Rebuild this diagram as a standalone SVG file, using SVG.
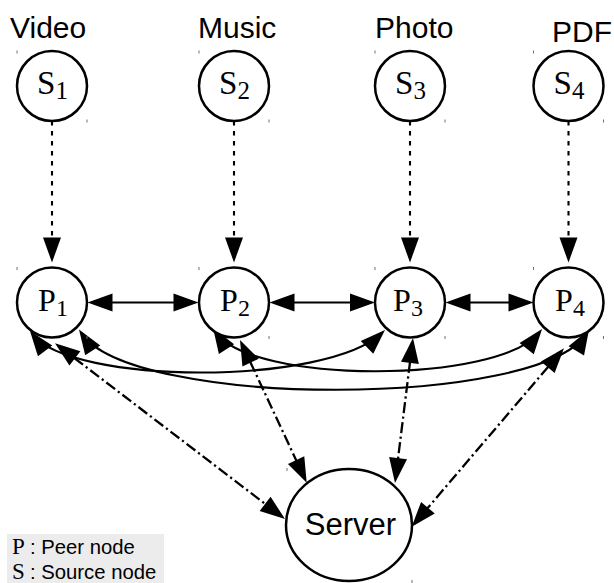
<svg xmlns="http://www.w3.org/2000/svg" width="614" height="583" viewBox="0 0 614 583">
  <style>
    .node { fill: #ffffff; stroke: #000000; stroke-width: 2.5; }
    .tick { stroke: #707070; stroke-width: 1; }
    .cap { font-family: "Liberation Sans", Arial, sans-serif; font-size: 30px; fill: #000000; }
    .math { font-family: "Liberation Serif", "Times New Roman", serif; fill: #000000; }
    .sans { font-family: "Liberation Sans", Arial, sans-serif; fill: #000000; }
    .edge { fill: none; stroke: #000000; stroke-width: 2.1; }
    .dotted { stroke-dasharray: 4.5 5.5; }
    .dashdot { stroke-dasharray: 11 3.5 2.2 3.5; stroke-width: 2.3; }
  </style>
  <defs>
    <marker id="head" markerUnits="userSpaceOnUse" orient="auto-start-reverse"
            refX="-4" refY="0" markerWidth="40" markerHeight="30" overflow="visible">
      <path d="M0,0 L-25,-9 L-25,9 Z" fill="#000000"/>
    </marker>
  </defs>

  <rect width="614" height="583" fill="#ffffff"/>

  <!-- content type captions above the sources -->
  <g id="captions">
    <text class="cap" x="10" y="38">Video</text>
    <text class="cap" x="198" y="38">Music</text>
    <text class="cap" x="375" y="38">Photo</text>
    <text class="cap" x="552" y="42.3">PDF</text>
  </g>

  <!-- connectors -->
  <g id="connectors">
    <!-- source to peer (dotted) -->
    <path class="edge dotted" d="M52,121 V258.5" marker-end="url(#head)"/>
    <path class="edge dotted" d="M234,121 V258.5" marker-end="url(#head)"/>
    <path class="edge dotted" d="M410,121 V258.5" marker-end="url(#head)"/>
    <path class="edge dotted" d="M568.5,121 V258.5" marker-end="url(#head)"/>

    <!-- neighbouring peers -->
    <path class="edge" d="M91.5,302.5 H194.5" marker-start="url(#head)" marker-end="url(#head)"/>
    <path class="edge" d="M273.5,302.5 H371" marker-start="url(#head)" marker-end="url(#head)"/>
    <path class="edge" d="M449.5,302.5 H529.5" marker-start="url(#head)" marker-end="url(#head)"/>

    <!-- long-range peer links -->
    <path class="edge" d="M32.4,334.2 C71,385 327,386 382.1,332.8" marker-start="url(#head)" marker-end="url(#head)"/>
    <path class="edge" d="M81.2,332.8 C131,408.8 542,408.8 587,332.9" marker-start="url(#head)" marker-end="url(#head)"/>
    <path class="edge" d="M215.2,331.4 C249,384.5 498.7,384.5 539.6,332.1" marker-start="url(#head)" marker-end="url(#head)"/>

    <!-- peer to server (dash-dot) -->
    <path class="edge dashdot" d="M58.2,345.7 L281.8,516.6" marker-start="url(#head)" marker-end="url(#head)"/>
    <path class="edge dashdot" d="M241.7,343.6 L305,479.1" marker-start="url(#head)" marker-end="url(#head)"/>
    <path class="edge dashdot" d="M412.5,342 L395.5,479" marker-start="url(#head)" marker-end="url(#head)"/>
    <path class="edge dashdot" d="M561.4,351.3 L414.3,523.7" marker-start="url(#head)" marker-end="url(#head)"/>
  </g>

  <!-- source nodes -->
  <g id="S1">
    <circle class="node" cx="52" cy="86" r="35"/>
    <text class="math" x="52.5" y="94" font-size="33" text-anchor="middle">S<tspan font-size="25" dy="4.5">1</tspan></text>
    <path class="tick" d="M17,50.5 v3 M87,119.5 v3"/>
  </g>
  <g id="S2">
    <circle class="node" cx="234" cy="86" r="35"/>
    <text class="math" x="234.5" y="94" font-size="33" text-anchor="middle">S<tspan font-size="25" dy="4.5">2</tspan></text>
    <path class="tick" d="M199,50.5 v3 M269,119.5 v3"/>
  </g>
  <g id="S3">
    <circle class="node" cx="410" cy="86" r="35"/>
    <text class="math" x="410.5" y="94" font-size="33" text-anchor="middle">S<tspan font-size="25" dy="4.5">3</tspan></text>
    <path class="tick" d="M375,50.5 v3 M445,119.5 v3"/>
  </g>
  <g id="S4">
    <circle class="node" cx="568.5" cy="86" r="35"/>
    <text class="math" x="569" y="94" font-size="33" text-anchor="middle">S<tspan font-size="25" dy="4.5">4</tspan></text>
    <path class="tick" d="M533.5,50.5 v3 M603.5,119.5 v3"/>
  </g>

  <!-- peer nodes -->
  <g id="P1">
    <circle class="node" cx="52" cy="302.5" r="35"/>
    <text class="math" x="53" y="310.7" font-size="32" text-anchor="middle">P<tspan font-size="24" dy="5">1</tspan></text>
    <path class="tick" d="M17,267 v3 M87,336 v3"/>
  </g>
  <g id="P2">
    <circle class="node" cx="234" cy="302.5" r="35"/>
    <text class="math" x="235" y="310.7" font-size="32" text-anchor="middle">P<tspan font-size="24" dy="5">2</tspan></text>
    <path class="tick" d="M199,267 v3 M269,336 v3"/>
  </g>
  <g id="P3">
    <circle class="node" cx="410" cy="302.5" r="35"/>
    <text class="math" x="408" y="310.7" font-size="32" text-anchor="middle">P<tspan font-size="24" dy="5">3</tspan></text>
    <path class="tick" d="M375,267 v3 M445,336 v3"/>
  </g>
  <g id="P4">
    <circle class="node" cx="568.5" cy="302.5" r="35"/>
    <text class="math" x="570" y="310.7" font-size="32" text-anchor="middle">P<tspan font-size="24" dy="5">4</tspan></text>
    <path class="tick" d="M533.5,267 v3 M603.5,336 v3"/>
  </g>

  <!-- central server -->
  <g id="server">
    <ellipse class="node" cx="349" cy="525" rx="63" ry="56"/>
    <text class="sans" x="350.5" y="535" font-size="31" text-anchor="middle">Server</text>
    <path class="tick" d="M287,468 v3 M412,580 v3"/>
  </g>

  <!-- key -->
  <g id="legend">
    <rect x="7" y="534" width="157" height="49" fill="#ececec"/>
    <text x="12" y="554"><tspan class="math" font-size="23">P</tspan><tspan class="sans" font-size="20.3" x="30">: Peer node</tspan></text>
    <text x="12" y="579"><tspan class="math" font-size="23">S</tspan><tspan class="sans" font-size="20.3" x="30">: Source node</tspan></text>
  </g>
</svg>
